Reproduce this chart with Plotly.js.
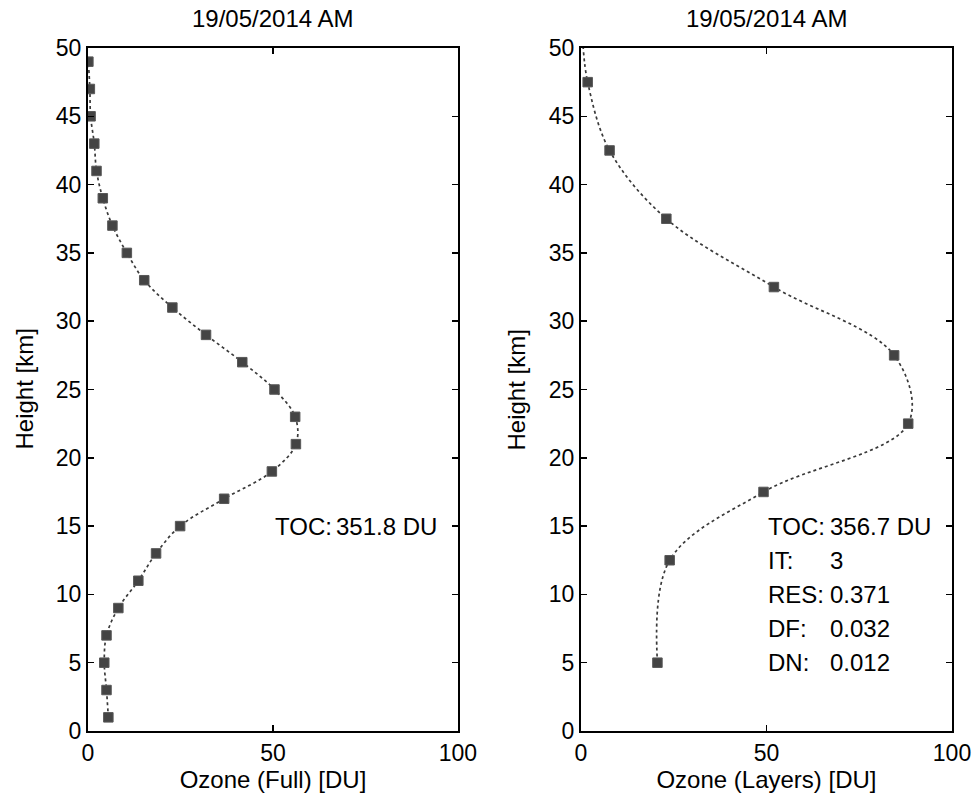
<!DOCTYPE html>
<html>
<head>
<meta charset="utf-8">
<script src="https://cdn.plot.ly/plotly-3.0.1.min.js"></script>
<style>html,body{margin:0;padding:0;background:#fff;}#chart{width:978px;height:805px;}</style>
</head>
<body>
<div id="chart"></div>
<script>
// Left panel: full profile
const fullHeight = [1, 3, 5, 7, 9, 11, 13, 15, 17, 19, 21, 23, 25, 27, 29, 31, 33, 35, 37, 39, 41, 43, 45, 47, 49];
const fullOzone  = [5.5, 5.0, 4.4, 5.0, 8.2, 13.6, 18.4, 24.9, 36.8, 49.7, 56.2, 56.0, 50.4, 41.7, 31.9, 22.8, 15.2, 10.5, 6.6, 4.0, 2.3, 1.7, 0.7, 0.5, 0.1];

// Right panel: layer profile
const layerHeight = [5, 12.5, 17.5, 22.5, 27.5, 32.5, 37.5, 42.5, 47.5];
const layerOzone  = [20.6, 23.9, 49.2, 88.2, 84.4, 52.0, 23.0, 7.7, 1.8];
// curve continues to the top of the axis
const layerCurveHeight = [5, 12.5, 17.5, 22.5, 27.5, 32.5, 37.5, 42.5, 47.5, 50];
const layerCurveOzone  = [20.6, 23.9, 49.2, 88.2, 84.4, 52.0, 23.0, 7.7, 1.8, 0.6];

const panelTitles = ["19/05/2014 AM", "19/05/2014 AM"];
const xTitles = ["Ozone (Full) [DU]", "Ozone (Layers) [DU]"];
const yTitle = "Height [km]";

const fullStatsLabels = ["TOC:"];
const fullStatsValues = ["351.8 DU"];
const layerStatsLabels = ["TOC:", "IT:", "RES:", "DF:", "DN:"];
const layerStatsValues = ["356.7 DU", "3", "0.371", "0.032", "0.012"];
const statsRows = [15, 12.5, 10, 7.5, 5];

const lineStyle = {color: '#3a3a3a', width: 1.7, dash: 'dot', shape: 'spline', smoothing: 1};
const markerStyle = {symbol: 'square', size: 9.5, color: '#444444', line: {color: '#585858', width: 1}};

const traces = [
  {x: fullOzone, y: fullHeight, mode: 'lines', line: lineStyle, xaxis: 'x', yaxis: 'y', hoverinfo: 'skip'},
  {x: fullOzone, y: fullHeight, mode: 'markers', marker: markerStyle, xaxis: 'x', yaxis: 'y'},
  {x: layerCurveOzone, y: layerCurveHeight, mode: 'lines', line: lineStyle, xaxis: 'x2', yaxis: 'y2', hoverinfo: 'skip'},
  {x: layerOzone, y: layerHeight, mode: 'markers', marker: markerStyle, xaxis: 'x2', yaxis: 'y2'}
];

const tickFont = {family: 'Liberation Sans, Arial, sans-serif', size: 23, color: '#000'};
const textFont = {family: 'Liberation Sans, Arial, sans-serif', size: 24, color: '#000'};

function xAxis(domain, title, anchor) {
  return {
    domain: domain, anchor: anchor, range: [0, 100], tickvals: [0, 50, 100],
    showgrid: false, zeroline: false, showline: true, mirror: 'ticks',
    linecolor: '#000', linewidth: 2, ticks: 'inside', ticklen: 6, tickwidth: 1.5, tickcolor: '#000',
    tickfont: tickFont, title: {text: title, font: textFont, standoff: 6}, fixedrange: true
  };
}
function yAxis(anchor) {
  return {
    domain: [0, 1], anchor: anchor, range: [0, 50], dtick: 5,
    showgrid: false, zeroline: false, showline: true, mirror: 'ticks',
    linecolor: '#000', linewidth: 2, ticks: 'inside', ticklen: 6, tickwidth: 1.5, tickcolor: '#000',
    tickfont: tickFont, fixedrange: true
  };
}

const annotations = [];
panelTitles.forEach((t, i) => {
  annotations.push({text: t, xref: (i === 0 ? 'x domain' : 'x2 domain'), yref: 'paper',
    x: 0.5, y: 1, yshift: 30, xanchor: 'center', yanchor: 'middle', showarrow: false, font: textFont});
});
// y-axis titles, placed to the left of each panel
['x domain', 'x2 domain'].forEach(ref => {
  annotations.push({text: yTitle, xref: ref, yref: 'paper', x: 0, y: 0.5, xshift: -64,
    xanchor: 'center', yanchor: 'middle', textangle: -90, showarrow: false, font: textFont});
});
fullStatsLabels.forEach((lab, i) => {
  annotations.push({text: lab, xref: 'x', yref: 'y', x: 50, y: statsRows[i], xanchor: 'left', yanchor: 'middle', showarrow: false, font: textFont});
  annotations.push({text: fullStatsValues[i], xref: 'x', yref: 'y', x: 66.5, y: statsRows[i], xanchor: 'left', yanchor: 'middle', showarrow: false, font: textFont});
});
layerStatsLabels.forEach((lab, i) => {
  annotations.push({text: lab, xref: 'x2', yref: 'y2', x: 50, y: statsRows[i], xanchor: 'left', yanchor: 'middle', showarrow: false, font: textFont});
  annotations.push({text: layerStatsValues[i], xref: 'x2', yref: 'y2', x: 66.5, y: statsRows[i], xanchor: 'left', yanchor: 'middle', showarrow: false, font: textFont});
});

const layout = {
  width: 978, height: 805,
  margin: {l: 88, r: 26, t: 48, b: 74},
  paper_bgcolor: '#fff', plot_bgcolor: '#fff',
  showlegend: false, font: textFont,
  xaxis: xAxis([0, 0.4282], xTitles[0], 'y'),
  yaxis: yAxis('x'),
  xaxis2: xAxis([0.5706, 1], xTitles[1], 'y2'),
  yaxis2: yAxis('x2'),
  annotations: annotations
};

Plotly.newPlot('chart', traces, layout, {displayModeBar: false, staticPlot: true});
</script>
</body>
</html>
